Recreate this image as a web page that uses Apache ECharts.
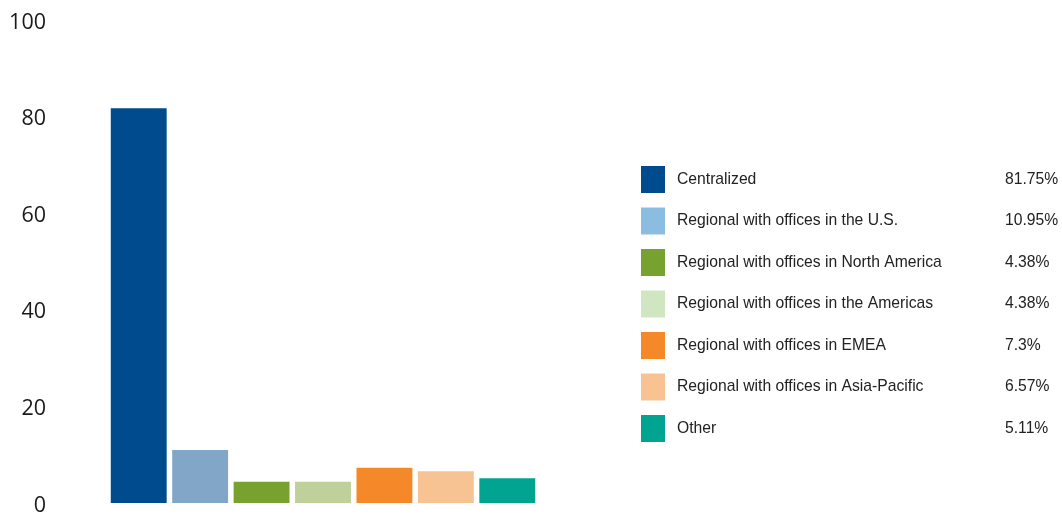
<!DOCTYPE html>
<html><head><meta charset="utf-8">
<script src="https://cdn.jsdelivr.net/npm/echarts@6/dist/echarts.min.js"></script>
<style>html,body{margin:0;padding:0;background:#fff}#c{width:1062px;height:515px}</style>
</head><body><div id="c"></div>
<script>
const categories = ['Centralized','Regional with offices in the U.S.','Regional with offices in North America','Regional with offices in the Americas','Regional with offices in EMEA','Regional with offices in Asia-Pacific','Other'];
const values = [81.75, 10.95, 4.38, 4.38, 7.3, 6.57, 5.11];
const barColors = ['#004b8d','#82a6c8','#78a22f','#bfd09b','#f58828','#f8c393','#00a490'];
const legendColors = ['#004b8d','#8bbde0','#78a22f','#cfe6c1','#f58828','#f9c293','#00a490'];
const yTicks = [0, 20, 40, 60, 80, 100];

const valueByName = {};
categories.forEach((c, i) => valueByName[c] = values[i]);

const series = categories.map((c, i) => ({
  name: c,
  type: 'bar',
  stack: 'all',
  barWidth: '91%',
  itemStyle: { color: barColors[i] },
  data: categories.map((_, j) => j === i ? values[i] : '-')
}));

const chart = echarts.init(document.getElementById('c'));
chart.setOption({
  animation: false,
  grid: { left: 108, right: 524, top: 20, bottom: 12, outerBoundsMode: 'none', containLabel: false },
  xAxis: { type: 'category', data: categories, show: false },
  yAxis: {
    type: 'value', min: yTicks[0], max: yTicks[yTicks.length - 1], interval: 20,
    axisLine: { show: false }, axisTick: { show: false }, splitLine: { show: false },
    axisLabel: {
      margin: 62, formatter: '{a|{value}}',
      rich: { a: { fontSize: 21.5, color: '#1a1a1a', fontFamily: 'Open Sans', padding: [5, 0, 0, 0] } }
    }
  },
  legend: {
    orient: 'vertical', left: 641, top: 166, padding: 0,
    itemWidth: 24, itemHeight: 27, itemGap: 14.5,
    icon: 'rect', selectedMode: false,
    data: categories.map((c, i) => ({ name: c, itemStyle: { color: legendColors[i] } })),
    formatter: name => '{n|' + name + '}{v|' + valueByName[name] + '%}',
    textStyle: {
      fontFamily: 'Liberation Sans', fontSize: 15.7, color: '#222',
      rich: {
        n: { width: 328, padding: [0, 0, 0, 7], fontFamily: 'Liberation Sans', fontSize: 15.7, color: '#222' },
        v: { fontFamily: 'Liberation Sans', fontSize: 15.7, color: '#222' }
      }
    }
  },
  series: series
});
</script></body></html>
